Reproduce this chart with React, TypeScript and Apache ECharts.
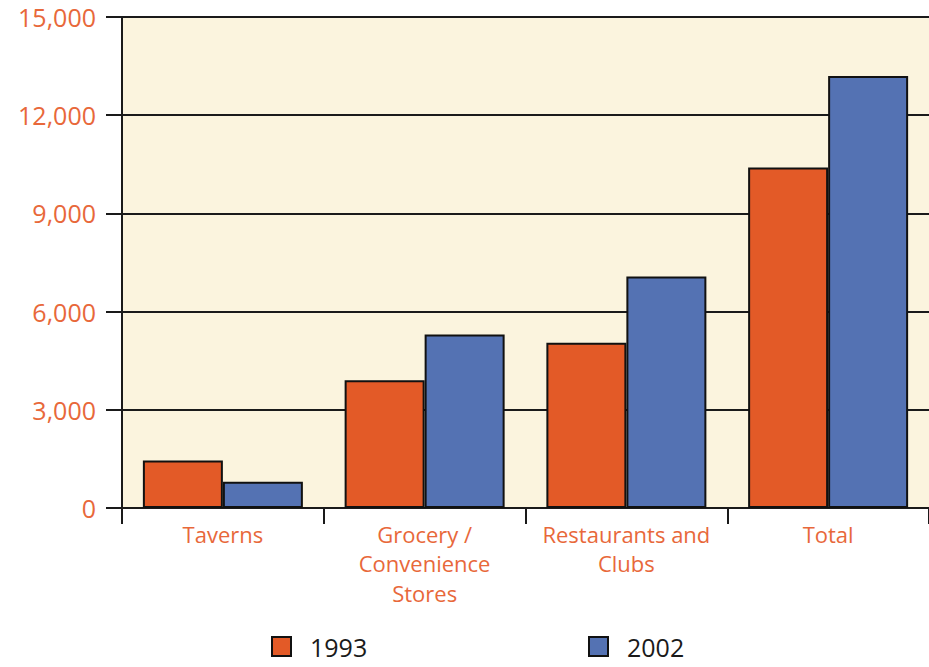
import React, { useEffect, useRef } from "react";
import * as echarts from "echarts";

const categories = ["Taverns", "Grocery /\nConvenience\nStores", "Restaurants and\nClubs", "Total"];
const seriesNames = ["1993", "2002"];
const values1993 = [1450, 3900, 5050, 10400];
const values2002 = [800, 5300, 7075, 13200];

const ORANGE = "#e35a27";
const BLUE = "#5472b3";
const LABEL = "#e8683a";
const FONT = "'Open Sans', 'Liberation Sans', sans-serif";

export default function App() {
  const ref = useRef<HTMLDivElement>(null);

  useEffect(() => {
    if (!ref.current) return;
    const chart = echarts.init(ref.current, undefined, { renderer: "svg" });
    const barStyle = (color: string) => ({
      color,
      borderColor: "#111",
      borderWidth: 2,
    });
    const legendText = {
      fontFamily: FONT,
      fontSize: 25,
      lineHeight: 25,
      color: "#1a1a1a",
      padding: [0, 0, 0, 14],
    };
    chart.setOption({
      animation: false,
      backgroundColor: "#ffffff",
      grid: {
        left: 122,
        top: 17,
        width: 810,
        height: 491,
        show: true,
        backgroundColor: "#fbf4de",
        borderWidth: 0,
      },
      legend: [
        {
          data: [seriesNames[0]],
          left: 271,
          top: 634,
          padding: 0,
          itemWidth: 19,
          itemHeight: 19,
          icon: "rect",
          textStyle: legendText,
        },
        {
          data: [seriesNames[1]],
          left: 588,
          top: 634,
          padding: 0,
          itemWidth: 19,
          itemHeight: 19,
          icon: "rect",
          textStyle: legendText,
        },
      ],
      xAxis: {
        type: "category",
        data: categories,
        axisLine: { show: true, lineStyle: { color: "#1a1a1a", width: 2 } },
        axisTick: { show: true, length: 16, lineStyle: { color: "#1a1a1a", width: 2 } },
        axisLabel: {
          color: LABEL,
          fontFamily: FONT,
          fontSize: 22,
          lineHeight: 29.5,
          margin: 11,
          interval: 0,
        },
      },
      yAxis: {
        type: "value",
        min: 0,
        max: 15000,
        interval: 3000,
        axisLine: { show: true, lineStyle: { color: "#1a1a1a", width: 2 } },
        axisTick: { show: true, length: 16, lineStyle: { color: "#1a1a1a", width: 2 } },
        splitLine: { show: true, lineStyle: { color: "#1a1a1a", width: 2 } },
        axisLabel: {
          color: LABEL,
          fontFamily: FONT,
          fontSize: 25,
          margin: 26,
          formatter: (v: number) => v.toLocaleString("en-US"),
        },
      },
      series: [
        {
          name: seriesNames[0],
          type: "bar",
          data: values1993,
          barWidth: 80,
          barGap: "0%",
          itemStyle: barStyle(ORANGE),
        },
        {
          name: seriesNames[1],
          type: "bar",
          data: values2002,
          barWidth: 80,
          barGap: "0%",
          itemStyle: barStyle(BLUE),
        },
      ],
    });
    return () => chart.dispose();
  }, []);

  return (
    <div
      ref={ref}
      style={{ position: "fixed", left: 0, top: 0, width: 929, height: 667 }}
    />
  );
}
